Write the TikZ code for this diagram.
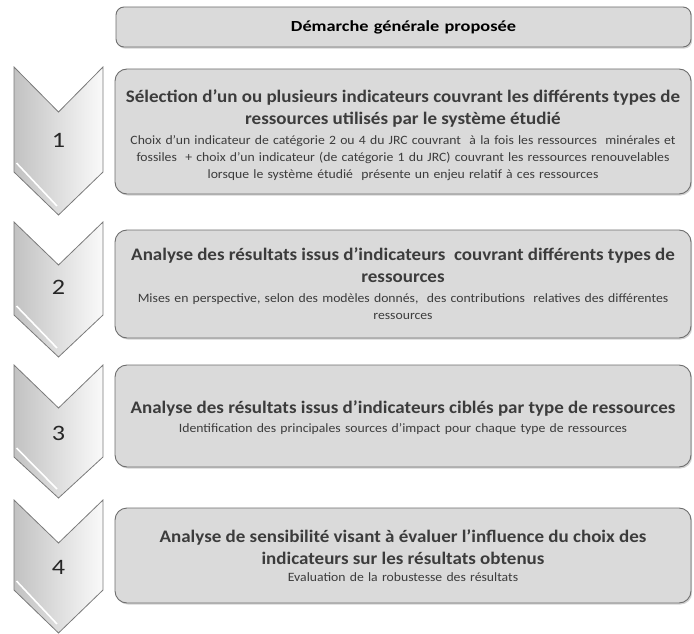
\documentclass[tikz,border=0pt]{standalone}
\usepackage{fontspec}
\setmainfont[FakeStretch=1.19]{Carlito}
\newfontfamily\subfamily[FakeStretch=1.08]{Carlito}
\usetikzlibrary{shadows}

\definecolor{boxfill}{HTML}{DADADA}
\definecolor{boxline}{HTML}{6E6E6E}
\definecolor{subtext}{HTML}{3C3C3C}
\definecolor{chevline}{HTML}{7A7A7A}

\newcommand{\titlefont}{\fontsize{17.6}{22}\selectfont\bfseries}
\newcommand{\subfont}{\subfamily\fontsize{12.7}{17}\selectfont\color{subtext}}

\begin{document}
\begin{tikzpicture}[x=1pt, y=-1pt]
    \tikzset{
        stepbox/.style={draw=boxline, fill=boxfill, line width=0.9pt, rounded corners=12pt,
            minimum width=576pt, text width=572pt, align=center, inner sep=0pt,
            font=\subfont, drop shadow={shadow xshift=1.2pt, shadow yshift=-1.6pt, opacity=0.35}},
        headbox/.style={stepbox, rounded corners=8pt, minimum width=575pt, minimum height=40pt,
            font=\fontsize{15.4}{18}\selectfont\bfseries},
        chevron/.style={draw=chevline, line width=0.8pt, left color=black!24, right color=black!2},
        bevel/.style={draw=white, line width=1.6pt},
        stepnum/.style={font=\fontsize{22}{22}\selectfont, text=black!85}
    }
    \useasboundingbox (0,0) rectangle (694,634);

    % Header
    \node[headbox] (head) at (403.5,27) {D\'emarche g\'en\'erale propos\'ee};

    % Chevrons
    \draw[chevron] (14,67) -- (58.5,112) -- (103,67) -- (103,172) -- (58.5,215) -- (14,172) -- cycle;
    \draw[bevel] (16.5,163) -- (57,206);
    \draw[chevron] (14,222) -- (58.5,265) -- (103,222) -- (103,315) -- (58.5,357) -- (14,315) -- cycle;
    \draw[bevel] (16.5,306) -- (57,348);
    \draw[chevron] (14,365) -- (58.5,408) -- (103,365) -- (103,457) -- (58.5,498) -- (14,457) -- cycle;
    \draw[bevel] (16.5,448) -- (57,489);
    \draw[chevron] (14,500) -- (58.5,543) -- (103,500) -- (103,590) -- (58.5,633) -- (14,590) -- cycle;
    \draw[bevel] (16.5,581) -- (57,624);

    \node[stepnum] (n1) at (58.5,140) {1};
    \node[stepnum] (n2) at (58.5,287) {2};
    \node[stepnum] (n3) at (58.5,433) {3};
    \node[stepnum] (n4) at (58.5,567) {4};

    % Step boxes
    \node[stepbox, minimum height=125pt] (s1) at (403,131.5) {%
        {\titlefont\rule{0pt}{21pt}S\'election d’un ou plusieurs indicateurs couvrant les diff\'erents types de\\
        ressources utilis\'es par le syst\`eme \'etudi\'e\par}\vspace{3pt}
        Choix d’un indicateur de cat\'egorie 2 ou 4 du JRC couvrant \ \`a la fois les ressources \ min\'erales et\\
        fossiles \ + choix d’un indicateur (de cat\'egorie 1 du JRC) couvrant les ressources renouvelables\\
        lorsque le syst\`eme \'etudi\'e \ pr\'esente un enjeu relatif \`a ces ressources};
    \node[stepbox, minimum height=108pt] (s2) at (403,284) {%
        {\titlefont Analyse des r\'esultats issus d’indicateurs \ couvrant diff\'erents types de\\
        ressources\par}\vspace{3pt}
        Mises en perspective, selon des mod\`eles donn\'es, \ des contributions \ relatives des diff\'erentes\\
        ressources};
    \node[stepbox, minimum height=102pt] (s3) at (403,416) {%
        {\titlefont\rule{0pt}{17pt}Analyse des r\'esultats issus d’indicateurs cibl\'es par type de ressources\par}\vspace{2pt}
        Identification des principales sources d’impact pour chaque type de ressources};
    \node[stepbox, minimum height=95pt] (s4) at (403,555.5) {%
        {\titlefont Analyse de sensibilit\'e visant \`a \'evaluer l’influence du choix des\\
        indicateurs sur les r\'esultats obtenus\par}
        Evaluation de la robustesse des r\'esultats};
\end{tikzpicture}
\end{document}
